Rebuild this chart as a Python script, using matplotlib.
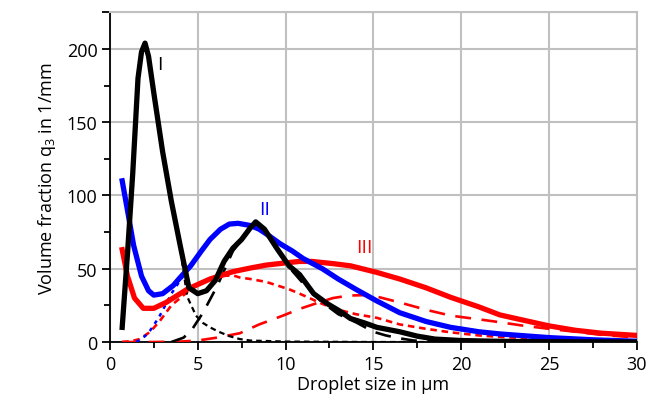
import matplotlib
matplotlib.use("Agg")
import matplotlib.pyplot as plt
from matplotlib.ticker import MultipleLocator

plt.rcParams['font.family'] = ['Open Sans', 'DejaVu Sans']
plt.rcParams['mathtext.fontset'] = 'custom'
plt.rcParams['mathtext.rm'] = 'Open Sans'
plt.rcParams['mathtext.it'] = 'Open Sans'

# Distribution I (black)
xI = [0.7, 1.0, 1.3, 1.6, 1.8, 2.0, 2.2, 2.5, 3.0, 3.5, 4.0, 4.5, 5.0, 5.5, 6.0, 6.5, 7.0, 7.5,
      8.0, 8.3, 8.8, 9.5, 10.2, 10.8, 11.6, 12.4, 13.1, 13.7, 14.5, 15.2, 16.5, 17.5, 18.5, 20, 22, 25, 30]
yI = [10, 60, 115, 180, 198, 204, 195, 170, 130, 96, 66, 37, 33, 35, 42, 55, 64, 70,
      78, 82, 77, 64, 52, 46, 33, 26, 21, 16, 13, 10, 7, 4, 2, 1, 0.5, 0.2, 0]
xI1 = [0.7, 1.0, 1.3, 1.6, 1.8, 2.0, 2.2, 2.5, 3.0, 3.5, 4.0, 4.4, 4.9, 5.3, 5.7, 6.2, 6.8, 7.4, 8, 10, 15, 20, 25, 30]
yI1 = [10, 60, 115, 180, 198, 204, 195, 170, 130, 96, 64, 31, 18, 13, 10, 7, 4, 2, 1, 0.3, 0, 0, 0, 0]
xI2 = [3.5, 4.2, 4.7, 5.3, 6.1, 7.0, 7.5, 8.0, 8.3, 8.8, 9.5, 10.2, 11, 12, 13, 14, 15, 15.7, 16.5, 17.3, 18.5, 20]
yI2 = [0, 3, 9, 20, 38, 62, 70, 78, 82, 76, 63, 51, 40, 28, 19, 13.5, 7, 4.5, 2.5, 1, 0.3, 0]

# Distribution II (blue)
xII = [0.7, 1.0, 1.35, 1.8, 2.2, 2.5, 3.0, 3.6, 4.0, 4.6, 5.2, 5.7, 6.3, 6.8, 7.3, 8.0, 8.5, 9.0, 9.7,
       10.4, 11.0, 12.1, 13.0, 14.0, 15.2, 16.5, 18.0, 19.4, 21, 22.2, 25, 27.5, 30]
yII = [110, 90, 66, 45, 35, 32, 33, 38.5, 44, 52, 62, 70, 77, 80.5, 81, 79.5, 77, 73, 67,
       62, 57, 50, 43, 36, 28, 20, 14, 10, 7, 5.5, 3, 1.5, 0.5]
xII1 = [1.5, 2.0, 2.3, 2.8, 3.5, 4.0, 4.6, 5.2, 5.7, 6.3, 6.8, 7.3, 8.0, 8.5, 9.0, 9.7,
        10.4, 11.0, 12.1, 13.0, 14.0, 15.2, 16.5, 18.0, 19.4, 21, 22.2, 25, 27.5, 30]
yII1 = [0, 4, 8, 17, 33, 42, 52, 62, 70, 77, 80.5, 81, 79.5, 77, 73, 67,
        62, 57, 50, 43, 36, 28, 20, 14, 10, 7, 5.5, 3, 1.5, 0.5]

# Distribution III (red)
xIII = [0.7, 1.0, 1.4, 1.9, 2.5, 3.2, 4.4, 5.7, 7.0, 8.0, 8.9, 10.0, 10.8, 11.5, 12.7, 13.7, 15.2,
        16.5, 18, 19.4, 21, 22.2, 23.5, 25, 26.5, 28, 30]
yIII = [63, 45, 30, 23, 23, 27, 36, 43, 48, 50.5, 52.5, 54, 55, 55, 53.5, 52, 47.5,
        43, 37, 30.5, 24, 18.5, 15, 11, 8, 6, 4.5]
xIII1 = [0.7, 1.2, 1.7, 2.3, 2.85, 3.5, 4.4, 5.0, 5.7, 6.3, 7.0, 7.4, 8.0, 8.9, 10.2, 10.8, 12.1, 13.0,
         14.0, 15.2, 16.5, 18, 19.4, 21, 22.2, 25, 27.5, 30]
yIII1 = [0, 0.5, 2, 7, 14.5, 25, 34, 39, 43, 45, 45.5, 44, 43, 41, 36, 33, 26, 22,
         19, 16.5, 12, 9, 6.6, 4.5, 3.5, 2, 1.2, 0.8]
xIII2 = [0.7, 2.5, 4, 5, 6.1, 7.4, 8.5, 9.85, 10.8, 11.9, 12.7, 13.6, 14.5, 15.2, 16.5, 18, 19.4, 21,
         22.2, 23.5, 25, 26.5, 27.9, 30]
yIII2 = [0, 0, 0.3, 1, 3, 6, 12, 18, 22.6, 27, 30, 31.7, 32, 31, 27, 22, 18, 15.5,
         13.5, 11.2, 9, 7, 5, 3]

labels = ['I', 'II', 'III']
label_x = [2.85, 8.8, 14.5]
label_y = [190, 91, 65]
colors = ['black', 'blue', 'red']

xticks = [0, 5, 10, 15, 20, 25, 30]
yticks = [0, 50, 100, 150, 200]

fig = plt.figure(figsize=(6.62, 4.10), dpi=100)
ax = fig.add_axes([0.166, 0.1634, 0.796, 0.804])

ax.plot(xIII2, yIII2, color='red', lw=1.9, dashes=(6, 4), zorder=3)
ax.plot(xIII1, yIII1, color='red', lw=1.9, dashes=(2.5, 1.8), zorder=3)
ax.plot(xI1, yI1, color='black', lw=1.6, dashes=(2.5, 1.8), zorder=3)
ax.plot(xI2, yI2, color='black', lw=1.9, dashes=(6, 4), zorder=3)
ax.plot(xII1, yII1, color='blue', lw=1.8, dashes=(1.5, 2), zorder=3)
ax.plot(xIII, yIII, color='red', lw=3.8, zorder=4)
ax.plot(xII, yII, color='blue', lw=3.8, zorder=4)
ax.plot(xI, yI, color='black', lw=3.8, zorder=5)

for t, lx, ly, c in zip(labels, label_x, label_y, colors):
    ax.text(lx, ly, t, color=c, fontsize=14, ha='center', va='center', zorder=6)

ax.set_xlim(0, 30)
ax.set_ylim(0, 225)
ax.set_xticks(xticks)
ax.set_yticks(yticks + [225])
ax.set_yticklabels([str(v) for v in yticks] + [''])
ax.xaxis.set_minor_locator(MultipleLocator(2.5))
ax.yaxis.set_minor_locator(MultipleLocator(25))
ax.grid(True, which='major', color='#c0c0c0', lw=1.5, zorder=0)
ax.set_axisbelow(True)
for s in ['top', 'right']:
    ax.spines[s].set_color('#c0c0c0')
    ax.spines[s].set_linewidth(1.5)
for s in ['left', 'bottom']:
    ax.spines[s].set_color('black')
    ax.spines[s].set_linewidth(1.3)
ax.tick_params(which='major', direction='out', length=6, width=1.3, labelsize=13, pad=3)
ax.tick_params(which='minor', direction='out', length=4, width=1.3)
ax.tick_params(top=False, right=False)
ax.set_xlabel('Droplet size in µm', fontsize=13, labelpad=2)
ax.set_ylabel('Volume fraction q$_3$ in 1/mm', fontsize=13, labelpad=6)

fig.savefig('out.png', dpi=100)
